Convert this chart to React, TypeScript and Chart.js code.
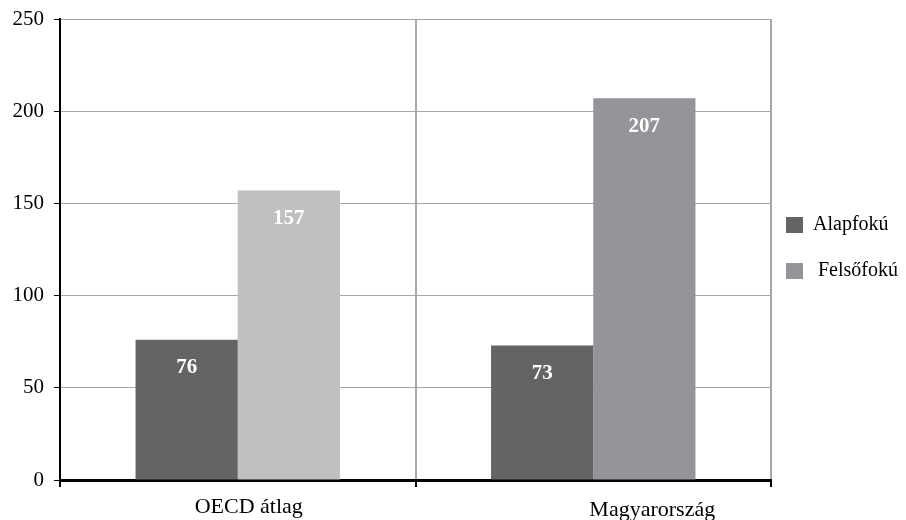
import React, { useEffect, useRef } from "react";
import { Chart, registerables } from "chart.js";

Chart.register(...registerables);

const categories = ["OECD átlag", "Magyarország"];
const seriesNames = ["Alapfokú", "Felsőfokú"];
const alapfoku = [76, 73];
const felsofoku = [157, 207];
const yTicks = [0, 50, 100, 150, 200, 250];

const FONT = "'Liberation Serif', 'DejaVu Serif', serif";
const DARK = "#636466";
const LIGHT_OECD = "#c0c0c0";
const MID = "#939598";
const GRID = "#a6a7a9";

const labelOffsets = [11, 59];
const labelYs = [507, 510];

const customPlugin = {
  id: "custom",
  afterDatasetsDraw(chart: any) {
    const ctx = chart.ctx;
    ctx.save();
    ctx.fillStyle = "#ffffff";
    ctx.font = `bold 21px ${FONT}`;
    ctx.textAlign = "center";
    ctx.textBaseline = "middle";
    chart.data.datasets.forEach((ds: any, di: number) => {
      const meta = chart.getDatasetMeta(di);
      meta.data.forEach((bar: any, i: number) => {
        ctx.fillText(String(ds.data[i]), bar.x, bar.y + 28);
      });
    });
    ctx.restore();
  },
  afterDraw(chart: any) {
    const ctx = chart.ctx;
    const xScale = chart.scales.x;
    ctx.save();
    ctx.fillStyle = "#000000";
    ctx.font = `22px ${FONT}`;
    ctx.textAlign = "center";
    ctx.textBaseline = "middle";
    categories.forEach((c, i) => {
      ctx.fillText(c, xScale.getPixelForValue(i) + labelOffsets[i], labelYs[i]);
    });
    // legend
    const colors = [DARK, MID];
    const ys = [225, 271];
    const textX = [813, 818];
    ctx.font = `20px ${FONT}`;
    ctx.textAlign = "left";
    seriesNames.forEach((n, i) => {
      ctx.fillStyle = colors[i];
      ctx.fillRect(786, ys[i] - 8, 17, 16);
      ctx.fillStyle = "#000000";
      ctx.fillText(n, textX[i], ys[i]);
    });
    ctx.restore();
  },
};

export default function App() {
  const ref = useRef<HTMLCanvasElement | null>(null);
  useEffect(() => {
    document.body.style.margin = "0";
    const chart = new Chart(ref.current as HTMLCanvasElement, {
      type: "bar",
      data: {
        labels: categories,
        datasets: [
          {
            label: seriesNames[0],
            data: alapfoku,
            backgroundColor: DARK,
            categoryPercentage: 0.575,
            barPercentage: 1.0,
          },
          {
            label: seriesNames[1],
            data: felsofoku,
            backgroundColor: [LIGHT_OECD, MID],
            categoryPercentage: 0.575,
            barPercentage: 1.0,
          },
        ],
      },
      options: {
        animation: false,
        responsive: false,
        layout: { padding: { top: 19, right: 135, left: 0, bottom: 0 } },
        plugins: {
          legend: { display: false },
          tooltip: { enabled: false },
        },
        scales: {
          x: {
            grid: {
              offset: true,
              color: GRID,
              lineWidth: 2,
              tickColor: "#000000",
              tickLength: 7,
            },
            border: { color: "#000000", width: 3 },
            ticks: { display: false },
            afterFit(scale: any) {
              scale.height = 40;
            },
          },
          y: {
            min: 0,
            max: 250,
            afterBuildTicks(scale: any) {
              scale.ticks = yTicks.map((v) => ({ value: v }));
            },
            grid: {
              color: GRID,
              lineWidth: 1,
              tickColor: "#000000",
              tickLength: 6,
            },
            border: { color: "#000000", width: 2 },
            ticks: {
              color: "#000000",
              font: { family: FONT, size: 21, lineHeight: 0.8 },
              padding: 10,
            },
            afterFit(scale: any) {
              scale.width = 60;
              scale.paddingTop = 0;
              scale.paddingBottom = 0;
            },
          },
        },
      },
      plugins: [customPlugin],
    });
    return () => chart.destroy();
  }, []);
  return (
    <div style={{ width: 906, height: 520 }}>
      <canvas ref={ref} width={906} height={520} style={{ display: "block" }} />
    </div>
  );
}
